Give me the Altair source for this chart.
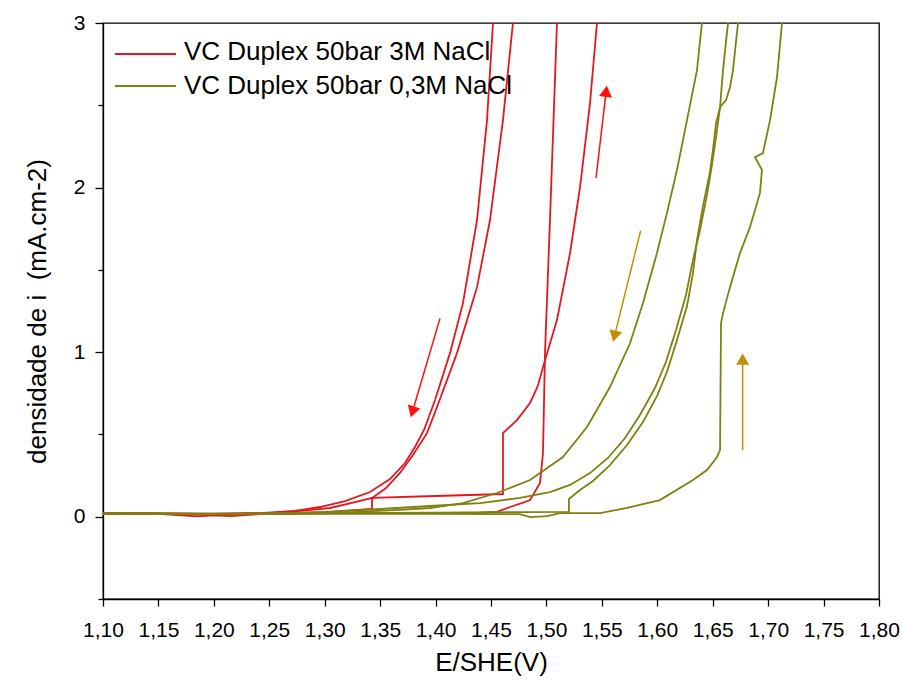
import altair as alt
import pandas as pd

FONT = "Liberation Sans"

series_names = ["VC Duplex 50bar 3M NaCl", "VC Duplex 50bar 0,3M NaCl"]
series_colors = ["#e3171f", "#808010"]

# ---- 3M NaCl (red) ----
rf1_E = [1.100, 1.150, 1.185, 1.200, 1.215, 1.250, 1.300, 1.3427, 1.3427, 1.400, 1.4608, 1.4608,
         1.4734, 1.4852, 1.4920, 1.4969, 1.5095, 1.5213, 1.5303, 1.5393, 1.5456]
rf1_i = [0.020, 0.018, 0.002, 0.008, 0.003, 0.020, 0.028, 0.047, 0.114, 0.126, 0.138, 0.508,
         0.587, 0.691, 0.790, 0.909, 1.195, 1.602, 2.002, 2.512, 3.000]

rf2_E = [1.100, 1.200, 1.300, 1.400, 1.4401, 1.4554, 1.4671, 1.4790, 1.4852, 1.4942, 1.4969, 1.4987, 1.5032, 1.5095]
rf2_i = [0.022, 0.012, 0.022, 0.022, 0.024, 0.029, 0.059, 0.085, 0.101, 0.205, 0.387, 0.994, 1.803, 3.000]

rr1_E = [1.4518, 1.4464, 1.4374, 1.4247, 1.4130, 1.3995, 1.3896, 1.3814, 1.3724, 1.3589, 1.3408,
         1.3183, 1.2957, 1.2732, 1.2416, 1.200, 1.150, 1.100]
rr1_i = [3.000, 2.410, 1.803, 1.298, 0.994, 0.709, 0.527, 0.424, 0.326, 0.229, 0.150,
         0.095, 0.059, 0.035, 0.022, 0.015, 0.020, 0.020]

rr2_E = [1.4698, 1.4608, 1.4491, 1.4374, 1.4193, 1.4013, 1.3923, 1.3796, 1.3679, 1.3553, 1.3427,
         1.3273, 1.3048, 1.2777, 1.2506, 1.200, 1.100]
rr2_i = [3.000, 2.410, 1.803, 1.395, 0.994, 0.667, 0.508, 0.375, 0.266, 0.174, 0.114,
         0.089, 0.053, 0.035, 0.022, 0.018, 0.020]

# ---- 0,3M NaCl (olive) ----
o1_E = [1.6403, 1.6358, 1.6268, 1.6178, 1.6087, 1.5997, 1.5871, 1.5754, 1.5573, 1.5366, 1.5149,
        1.4852, 1.4554, 1.4247, 1.3950, 1.3679, 1.3048, 1.2326, 1.100]
o1_i = [3.000, 2.714, 2.410, 2.108, 1.845, 1.602, 1.298, 1.054, 0.788, 0.545, 0.363,
        0.223, 0.144, 0.083, 0.053, 0.041, 0.022, 0.016, 0.020]

o2_E = [1.100, 1.200, 1.300, 1.400, 1.480, 1.5203, 1.5203, 1.5303, 1.5420, 1.5573, 1.5727, 1.5871,
        1.5997, 1.6087, 1.6178, 1.6268, 1.6322, 1.6358, 1.6412, 1.6475, 1.6502, 1.6530, 1.6566,
        1.6620, 1.6656, 1.6683, 1.6728]
o2_i = [0.020, 0.018, 0.022, 0.025, 0.028, 0.029, 0.108, 0.162, 0.217, 0.314, 0.436, 0.575,
        0.733, 0.879, 1.074, 1.280, 1.480, 1.681, 1.887, 2.094, 2.228, 2.392, 2.488,
        2.531, 2.610, 2.714, 3.000]

o3_E = [1.6638, 1.6593, 1.6566, 1.6530, 1.6493, 1.6448, 1.6385, 1.6322, 1.6259, 1.6169, 1.6078,
        1.5979, 1.5844, 1.5709, 1.5555, 1.5393, 1.5213, 1.5032, 1.4761, 1.4401, 1.3950, 1.3499,
        1.3048, 1.2326, 1.100]
o3_i = [3.000, 2.714, 2.488, 2.307, 2.137, 1.954, 1.741, 1.560, 1.347, 1.134, 0.940,
        0.782, 0.618, 0.478, 0.357, 0.265, 0.193, 0.150, 0.114, 0.083, 0.065, 0.047,
        0.029, 0.016, 0.020]

o4_E = [1.100, 1.200, 1.300, 1.400, 1.4761, 1.4852, 1.5005, 1.5122, 1.5483, 1.5727, 1.6024, 1.6322,
        1.6448, 1.6539, 1.6566, 1.6575, 1.6593, 1.6656, 1.6746, 1.6836, 1.6926, 1.6944, 1.6881,
        1.6953, 1.7017, 1.7080, 1.7125]
o4_i = [0.018, 0.015, 0.018, 0.018, 0.016, -0.002, 0.004, 0.022, 0.022, 0.053, 0.101, 0.223,
        0.284, 0.363, 0.405, 1.177, 1.237, 1.395, 1.602, 1.759, 1.966, 2.108, 2.185,
        2.209, 2.410, 2.671, 3.000]

# ---- arrows (tail -> head) ----
arrow_E0 = [1.4040, 1.5447, 1.5850, 1.6770]
arrow_i0 = [1.205, 2.057, 1.738, 0.405]
arrow_E1 = [1.3796, 1.5537, 1.5618, 1.6770]
arrow_i1 = [0.648, 2.574, 1.108, 0.946]
arrow_angle = [197, 7, 194, 0]
arrow_colors = ["#ff1010", "#ff1010", "#c09000", "#c09000"]

x_tick_values = [1.100, 1.125, 1.150, 1.175, 1.200, 1.225, 1.250, 1.275, 1.300, 1.325, 1.350,
                 1.375, 1.400, 1.425, 1.450, 1.475, 1.500, 1.525, 1.550, 1.575, 1.600, 1.625,
                 1.650, 1.675, 1.700, 1.725, 1.750, 1.775, 1.800]
y_tick_values = [-0.5, 0.0, 0.5, 1.0, 1.5, 2.0, 2.5, 3.0]

curves = [
    ("rf1", 0, rf1_E, rf1_i), ("rf2", 0, rf2_E, rf2_i),
    ("rr1", 0, rr1_E, rr1_i), ("rr2", 0, rr2_E, rr2_i),
    ("o1", 1, o1_E, o1_i), ("o2", 1, o2_E, o2_i),
    ("o3", 1, o3_E, o3_i), ("o4", 1, o4_E, o4_i),
]
rows = []
for cid, s, E, I in curves:
    for k, (e, v) in enumerate(zip(E, I)):
        rows.append({"curve": cid, "series": series_names[s], "E": e, "i": v, "k": k})
df = pd.DataFrame(rows)

adf = pd.DataFrame({"E": arrow_E0, "i": arrow_i0, "E2": arrow_E1, "i2": arrow_i1,
                    "ang": arrow_angle, "col": arrow_colors})

x_scale = alt.Scale(domain=[1.10, 1.80], nice=False, zero=False)
y_scale = alt.Scale(domain=[-0.5, 3.0], nice=False, zero=False)

minor_x = "abs(round(datum.value*1000) % 50) > 0"
minor_y = "abs(datum.value % 1) > 0"

x_axis = alt.Axis(
    values=x_tick_values, title="E/SHE(V)",
    labelExpr=f"{minor_x} ? '' : replace(format(datum.value, '.2f'), '.', ',')",
    tickSize={"condition": {"test": minor_x, "value": 4}, "value": 7},
    labelPadding=13, titlePadding=9, labelFlush=False, labelOverlap=False, grid=False,
)
y_axis = alt.Axis(
    values=y_tick_values, title="densidade de i\u00a0\u00a0(mA.cm-2)",
    labelExpr=f"{minor_y} ? '' : format(datum.value, 'd')",
    tickSize={"condition": {"test": minor_y, "value": 5}, "value": 8},
    labelPadding=10, titlePadding=23, labelFlush=False, labelOverlap=False, grid=False,
)

lines = alt.Chart(df).mark_line(strokeWidth=1.8, clip=True).encode(
    x=alt.X("E:Q", scale=x_scale, axis=x_axis),
    y=alt.Y("i:Q", scale=y_scale, axis=y_axis),
    color=alt.Color("series:N", scale=alt.Scale(domain=series_names, range=series_colors), legend=None),
    detail="curve:N",
    order="k:Q",
)

arrow_lines = alt.Chart(adf).mark_rule(strokeWidth=1.5).encode(
    x=alt.X("E:Q", scale=x_scale), y=alt.Y("i:Q", scale=y_scale),
    x2="E2:Q", y2="i2:Q",
    color=alt.Color("col:N", scale=None),
)
arrow_heads = alt.Chart(adf).mark_point(shape="triangle", filled=True, size=170, opacity=1).encode(
    x=alt.X("E2:Q", scale=x_scale), y=alt.Y("i2:Q", scale=y_scale),
    angle=alt.Angle("ang:Q", scale=None),
    color=alt.Color("col:N", scale=None),
)

legend_layers = []
for k, (nm, colr) in enumerate(zip(series_names, series_colors)):
    ldf = pd.DataFrame({"name": [nm]})
    legend_layers.append(
        alt.Chart(ldf).mark_rule(color=colr, strokeWidth=2).encode(
            x=alt.value(12), x2=alt.value(73), y=alt.value(31 + 32 * k))
    )
    legend_layers.append(
        alt.Chart(ldf).mark_text(align="left", baseline="middle", fontSize=26, font=FONT, color="black").encode(
            x=alt.value(81), y=alt.value(29 + 34 * k), text="name:N")
    )

chart = alt.layer(lines, arrow_lines, arrow_heads, *legend_layers).properties(
    width=776, height=576,
    autosize=alt.AutoSizeParams(type="none"),
    padding={"left": 103, "top": 23, "right": 23, "bottom": 87},
    background="white",
).configure_view(
    stroke="black", strokeWidth=1.3
).configure_axis(
    labelFont=FONT, labelFontSize=21, labelColor="black",
    titleFont=FONT, titleFontSize=26, titleFontWeight="normal", titleColor="black",
    domainColor="black", domainWidth=1.3, tickColor="black", tickWidth=1.3,
)

chart.save("out.html", embed_options={"renderer": "svg", "actions": False})
